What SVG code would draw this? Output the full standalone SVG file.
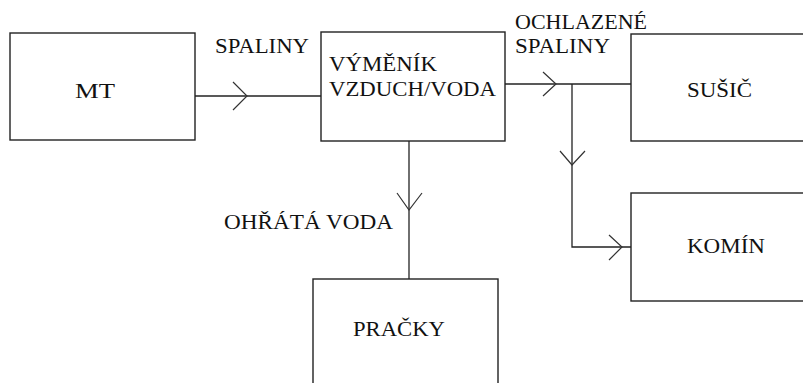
<svg xmlns="http://www.w3.org/2000/svg" width="803" height="383" viewBox="0 0 803 383">
<style>
.box{fill:#fff;stroke:#222;stroke-width:1.4}
.ln{fill:none;stroke:#222;stroke-width:1.3}
.ch{fill:none;stroke:#333;stroke-width:1.2}
.t{font-family:'Liberation Serif','Times New Roman','DejaVu Serif',serif;font-size:21px;fill:#111}
</style>
<rect width="803" height="383" fill="#fff"/>
<g id="connectors">
<path class="ln" d="M195,96 H321"/>
<path class="ch" d="M233,82 L247,96 L233,110"/>
<path class="ln" d="M505,84 H631"/>
<path class="ch" d="M543,72 L556,84 L543,96"/>
<path class="ln" d="M572,84 V247 H631"/>
<path class="ch" d="M560,151 L572,165 L585,151"/>
<path class="ch" d="M609,235 L622,247 L609,260"/>
<path class="ln" d="M409,141 V279"/>
<path class="ch" d="M397,193 L409,210 L422,193"/>
<text class="t" x="215" y="53" textLength="94" lengthAdjust="spacingAndGlyphs">SPALINY</text>
<text class="t" x="515" y="29" textLength="132" lengthAdjust="spacingAndGlyphs">OCHLAZENÉ</text>
<text class="t" x="515" y="53" textLength="95" lengthAdjust="spacingAndGlyphs">SPALINY</text>
<text class="t" x="224" y="229" textLength="169" lengthAdjust="spacingAndGlyphs">OHŘÁTÁ VODA</text>
</g>
<g id="node-mt">
<rect class="box" x="10" y="33" width="185" height="107"/>
<text class="t" x="75" y="98" textLength="40" lengthAdjust="spacingAndGlyphs">MT</text>
</g>
<g id="node-vymenik">
<rect class="box" x="321" y="32" width="184" height="109"/>
<text class="t" x="329" y="71" textLength="108" lengthAdjust="spacingAndGlyphs">VÝMĚNÍK</text>
<text class="t" x="329" y="96" textLength="167" lengthAdjust="spacingAndGlyphs">VZDUCH/VODA</text>
</g>
<g id="node-susic">
<rect class="box" x="631" y="34" width="185" height="107"/>
<text class="t" x="687" y="97" textLength="65" lengthAdjust="spacingAndGlyphs">SUŠIČ</text>
</g>
<g id="node-komin">
<rect class="box" x="631" y="193" width="185" height="108"/>
<text class="t" x="687" y="253" textLength="78" lengthAdjust="spacingAndGlyphs">KOMÍN</text>
</g>
<g id="node-pracky">
<rect class="box" x="313" y="279" width="185" height="120"/>
<text class="t" x="353" y="336" textLength="92" lengthAdjust="spacingAndGlyphs">PRAČKY</text>
</g>
</svg>
